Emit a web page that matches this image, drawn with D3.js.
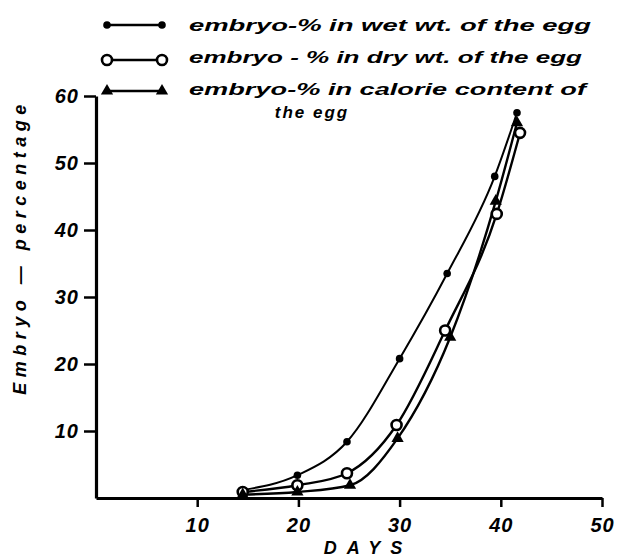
<!DOCTYPE html>
<html>
<head>
<meta charset="utf-8">
<script src="https://cdn.jsdelivr.net/npm/d3@7"></script>
<style>
  body { margin: 0; background: #fff; }
  text { font-family: "Liberation Sans", Arial, sans-serif; font-weight: bold; font-style: italic; fill: #000; }
</style>
</head>
<body>
<div id="chart"></div>
<script>
// values
var wetDays = [14.5, 19.9, 24.8, 30.0, 34.7, 39.4, 41.6];
var wetPct  = [1.2, 3.4, 8.4, 20.8, 33.5, 48, 57.5];
var dryDays = [14.5, 19.9, 24.8, 29.7, 34.5, 39.6, 41.9];
var dryPct  = [0.9, 1.9, 3.7, 10.9, 25, 42.4, 54.5];
var calDays = [14.5, 19.9, 25.1, 29.8, 35.0, 39.5, 41.6];
var calPct  = [0.5, 0.9, 1.9, 8.9, 24, 44.3, 56];

var xTicks = [10, 20, 30, 40, 50];
var yTicks = [10, 20, 30, 40, 50, 60];
var legendLabels = ["embryo-% in wet  wt. of the egg",
                    "embryo - % in dry  wt. of the egg",
                    "embryo-% in calorie  content of"];

var W = 617, H = 559;
var svg = d3.select("#chart").append("svg").attr("width", W).attr("height", H);

var x = d3.scaleLinear().domain([0, 50]).range([96, 602]);
var y = d3.scaleLinear().domain([0, 60]).range([498, 96]);

// axes
var xAxis = d3.axisBottom(x).tickValues(xTicks).tickSize(9).tickPadding(7).tickSizeOuter(0);
var gx = svg.append("g").attr("transform", "translate(0," + y(0) + ")").call(xAxis);
gx.select(".domain").attr("stroke-width", 3.2);
gx.selectAll(".tick line").attr("stroke-width", 2.5);
gx.selectAll(".tick text").style("font-size", "20px").style("letter-spacing", "1px").attr("dy", "0.9em");

var yAxis = d3.axisLeft(y).tickValues(yTicks).tickSize(12).tickPadding(5).tickSizeOuter(0);
var gy = svg.append("g").attr("transform", "translate(" + x(0) + ",0)").call(yAxis);
gy.select(".domain").attr("stroke-width", 3.2);
gy.selectAll(".tick line").attr("stroke-width", 2.5);
gy.selectAll(".tick text").style("font-size", "20px").style("letter-spacing", "1px");

svg.append("text").attr("x", 368).attr("y", 554).attr("text-anchor", "middle")
   .style("font-size", "18px").style("letter-spacing", "10px").text("DAYS");
svg.append("text").attr("transform", "translate(26,247) rotate(-90)").attr("text-anchor", "middle")
   .style("font-size", "18px").style("letter-spacing", "5.5px").text("Embryo \u2014 percentage");

// series
var series = [
  {days: wetDays, vals: wetPct, mark: "dot", w: 2},
  {days: dryDays, vals: dryPct, mark: "circle", w: 2.4},
  {days: calDays, vals: calPct, mark: "tri", w: 2.4}
];

var line = d3.line().curve(d3.curveMonotoneX).x(function(d){ return x(d[0]); }).y(function(d){ return y(d[1]); });

function drawMark(g, kind, px, py) {
  if (kind == "dot") {
    g.append("circle").attr("cx", px).attr("cy", py).attr("r", 3.8).attr("fill", "#000");
  } else if (kind == "circle") {
    g.append("circle").attr("cx", px).attr("cy", py).attr("r", 5)
     .attr("fill", "#fff").attr("stroke", "#000").attr("stroke-width", 2.6);
  } else {
    g.append("path").attr("d", d3.symbol().type(d3.symbolTriangle).size(65)())
     .attr("transform", "translate(" + px + "," + py + ")").attr("fill", "#000");
  }
}

series.forEach(function(s){
  var pts = s.days.map(function(d, i){ return [d, s.vals[i]]; });
  svg.append("path").datum(pts).attr("d", line)
     .attr("fill", "none").attr("stroke", "#000").attr("stroke-width", s.w);
});
series.forEach(function(s){
  var g = svg.append("g");
  s.days.forEach(function(d, i){ drawMark(g, s.mark, x(d), y(s.vals[i])); });
});

// legend
var legY = [25, 60, 91];
var textY = [31, 63, 95];
var textLen = [402, 393, 397];
series.forEach(function(s, i){
  var g = svg.append("g");
  g.append("line").attr("x1", 107).attr("x2", 162).attr("y1", legY[i]).attr("y2", legY[i])
   .attr("stroke", "#000").attr("stroke-width", 2.6);
  drawMark(g, s.mark, 107, legY[i]);
  drawMark(g, s.mark, 162, legY[i]);
  g.append("text").attr("x", 189).attr("y", textY[i]).style("font-size", "17px")
   .attr("textLength", textLen[i]).attr("lengthAdjust", "spacingAndGlyphs").text(legendLabels[i]);
});
svg.append("text").attr("x", 312).attr("y", 118).attr("text-anchor", "middle")
   .style("font-size", "17px").style("letter-spacing", "2px").text("the egg");
</script>
</body>
</html>
